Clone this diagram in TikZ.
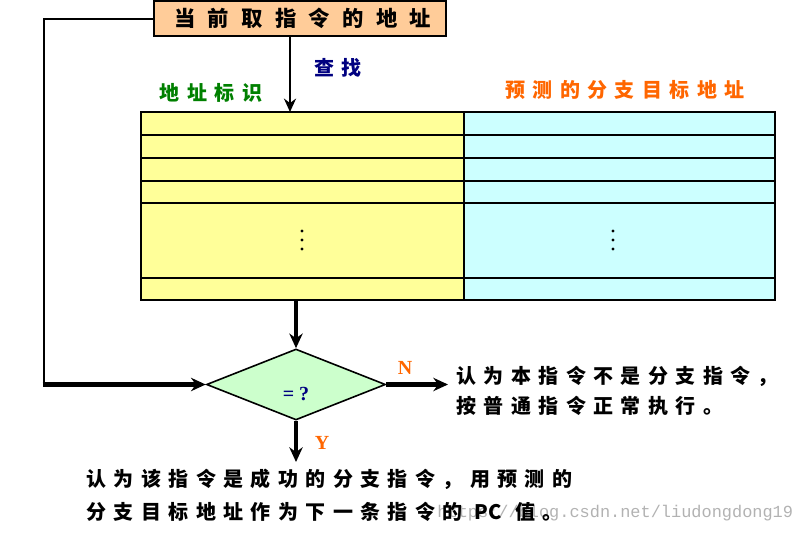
\documentclass[tikz,border=0pt]{standalone}
\usepackage{fontspec}
\setmainfont{Liberation Serif}
\newfontfamily\cjk{Noto Sans CJK SC}[LetterSpace=37]
\newfontfamily\cjkwide{Noto Sans CJK SC}[LetterSpace=58]
\newfontfamily\cjkplain{Noto Sans CJK SC}
\newfontfamily\wmfont{Liberation Mono}
\usetikzlibrary{arrows.meta,shapes.geometric}

\definecolor{peach}{RGB}{255,204,153}
\definecolor{tagyellow}{RGB}{255,255,153}
\definecolor{tgtcyan}{RGB}{204,255,255}
\definecolor{cmpgreen}{RGB}{204,255,204}
\definecolor{lblgreen}{RGB}{0,128,0}
\definecolor{lblorange}{RGB}{255,102,0}
\definecolor{lblblue}{RGB}{0,0,128}

\tikzset{every picture/.style={line width=1.5pt},
  cjktext/.style={font=\cjk\bfseries\fontsize{15pt}{22.5pt}\selectfont},
  thinflow/.style={line width=2pt,-{Stealth[length=10pt,width=9pt]}},
  boldflow/.style={line width=3.5pt,-{Stealth[length=11pt,width=10pt]}}}

\begin{document}
\begin{tikzpicture}[x=0.75pt,y=0.75pt,yscale=-1]
\useasboundingbox (0,0) rectangle (802,534);

%Shape: fetch address box
\node (fetch) [draw,fill=peach,minimum width=219pt,minimum height=26.25pt,inner sep=0pt,
  font=\cjkwide\bfseries\fontsize{16pt}{18pt}\selectfont] at (300,18.5) {\hspace{4pt}当前取指令的地址\hspace{-8pt}};

%Shape: table cells
\fill [tagyellow] (141,112) rectangle (464,300) ;
\fill [tgtcyan] (464,112) rectangle (775,300) ;
\draw (141,112) rectangle (775,300) ;
\foreach \y in {135,158,181,203,278} \draw (141,\y) -- (775,\y) ;
\draw (464,112) -- (464,300) ;
%Dots
\foreach \x in {302,613} \foreach \y in {231,240,249} \fill (\x,\y) circle (1.6) ;

%Shape: compare diamond
\node (cmp) [diamond,draw,fill=cmpgreen,minimum width=134.25pt,minimum height=53.25pt,
  inner sep=0pt,line width=1.2pt] at (296,384.5) {};

\coordinate (tabtop) at (290,112) ;
\coordinate (tabbot) at (296,300) ;
\coordinate (loopa) at (44,19) ;
\coordinate (loopb) at (44,384.5) ;
\coordinate (nend) at (448,384.5) ;
\coordinate (yend) at (296,462) ;

%Connectors
\draw [thinflow] (fetch.south -| tabtop) -- (tabtop) ;
\draw [boldflow] (tabbot) -- (cmp.north) ;
\draw [line width=2pt] (fetch.west |- loopa) -- (loopa) -- (loopb) ;
\draw [boldflow] ([xshift=-1pt]loopb) -- (cmp.west) ;
\draw [boldflow] (cmp.east) -- (nend) ;
\draw [boldflow] (cmp.south) -- (yend) ;

% Text Node
\node (wm) [anchor=west,text=black!30,font=\wmfont\fontsize{12.7pt}{14pt}\selectfont] at (432,513) {https://blog.csdn.net/liudongdong19};
% Text Node
\node (find) [cjktext,text=lblblue] at (338,68) {查找};
% Text Node
\node (taglbl) [cjktext,text=lblgreen] at (211,93) {地址标识};
% Text Node
\node (tgtlbl) [cjktext,text=lblorange] at (625,90) {预测的分支目标地址};
% Text Node
\node (eq) [text=lblblue,font=\bfseries\fontsize{15pt}{16pt}\selectfont] at (296,394) {= ?};
% Text Node
\node (nlbl) [text=lblorange,font=\bfseries\fontsize{15pt}{16pt}\selectfont] at (405,368) {N};
% Text Node
\node (ylbl) [text=lblorange,font=\bfseries\fontsize{15pt}{16pt}\selectfont] at (322,443) {Y};
% Text Node
\node (nres) [cjktext,anchor=west,align=left] at (451,391) {认为本指令不是分支指令，\\按普通指令正常执行。};
% Text Node
\node (yres) [cjktext,anchor=west,align=left,font=\cjk\bfseries\fontsize{15pt}{24.75pt}\selectfont] at (81,495.5) {认为该指令是成功的分支指令，用预测的\\分支目标地址作为下一条指令的\hspace{9pt}{\cjkplain\bfseries PC}\hspace{10pt}值。};

\end{tikzpicture}
\end{document}
